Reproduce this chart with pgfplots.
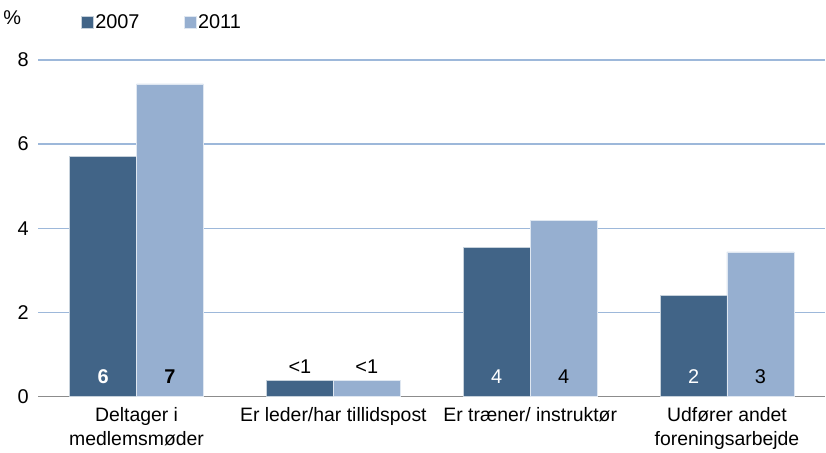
\documentclass[border=0pt]{standalone}
\usepackage{fontspec}
\setmainfont{Liberation Sans}
\usepackage{pgfplots}
\pgfplotsset{compat=1.18}
\definecolor{darkbar}{RGB}{65,100,135}
\definecolor{lightbar}{RGB}{150,175,208}
\definecolor{gridblue}{RGB}{157,184,218}
\definecolor{axgray}{RGB}{140,140,140}

\begin{document}
\begin{tikzpicture}[x=1bp,y=1bp]
\begin{axis}[
    scale only axis,
    width=788bp, height=337bp,
    ymin=0, ymax=8, ytick={0,2,4,6,8},
    xmin=-0.5, xmax=3.5,
    xtick={0,1,2,3},
    xticklabels={{Deltager i\\medlemsmøder},{Er leder/har tillidspost},{Er træner/ instruktør},{Udfører andet\\foreningsarbejde}},
    extra x ticks={-0.5,0.5,1.5,2.5},
    extra x tick labels={},
    extra x tick style={major tick length=5bp, tick align=outside, tick style={axgray, line width=1bp}, grid=none},
    xtick style={draw=none},
    ytick style={draw=none},
    xticklabel style={align=center, font=\fontsize{19.5}{24}\selectfont, yshift=-7bp},
    yticklabel style={font=\fontsize{20}{22}\selectfont, xshift=-6bp},
    /pgf/number format/assume math mode=true,
    axis x line*=bottom, axis y line*=left,
    y axis line style={draw=none},
    x axis line style={axgray, line width=1.2bp},
    ymajorgrids, grid style={gridblue, line width=1.2bp},
    major tick length=0pt,
    ybar=0pt, bar width=0.34,
    legend style={at={(0.05,1.113)}, anchor=west, legend columns=2, draw=none, fill=none,
        font=\fontsize{20}{22}\selectfont, /tikz/every even column/.append style={column sep=42bp},
        /tikz/nodes={inner xsep=2bp}},
    legend image code/.code={\fill[#1] (0bp,-6bp) rectangle (12bp,6bp);},
    legend cell align=left,
    clip=false,
]
\addplot[fill=darkbar, draw=white!70!darkbar, line width=0.6bp] coordinates {(0,5.70) (1,0.38) (2,3.54) (3,2.40)};
\addlegendentry{2007}
\addplot[fill=lightbar, draw=white!70!lightbar, line width=0.6bp] coordinates {(0,7.43) (1,0.38) (2,4.18) (3,3.44)};
\addlegendentry{2011}

\begin{scope}[font=\fontsize{20}{22}\selectfont]
\node[white] at (axis cs:-0.17,0.47) {\bfseries 6};
\node[black] at (axis cs:0.17,0.47) {\bfseries 7};
\node at (axis cs:0.83,0.70) {<1};
\node at (axis cs:1.17,0.70) {<1};
\node[white] at (axis cs:1.83,0.47) {4};
\node[black] at (axis cs:2.17,0.47) {4};
\node[white] at (axis cs:2.83,0.47) {2};
\node[black] at (axis cs:3.17,0.47) {3};
\end{scope}
\node[font=\fontsize{20}{22}\selectfont] at (rel axis cs:-0.033,1.125) {\%};
\path (rel axis cs:0,1.178) (rel axis cs:0,-0.154);
\end{axis}
\end{tikzpicture}
\end{document}
